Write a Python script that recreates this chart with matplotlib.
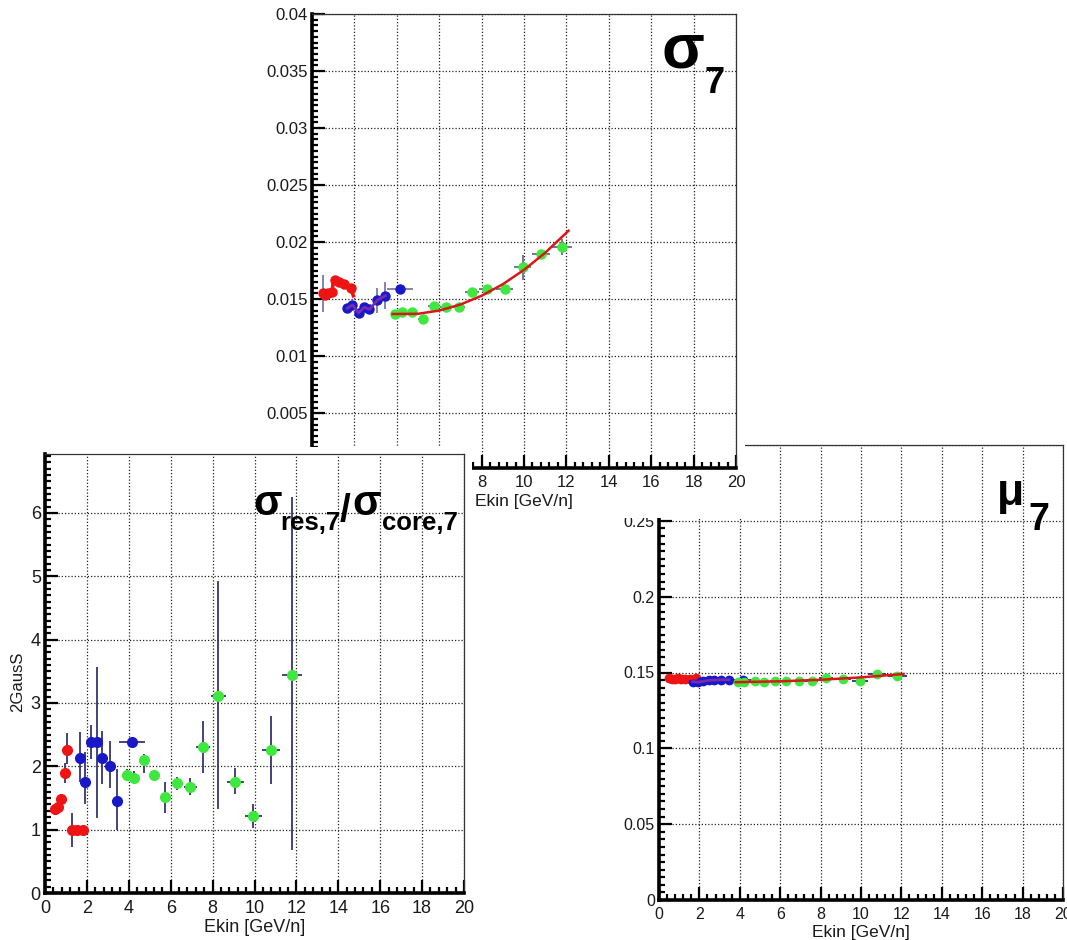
import matplotlib
matplotlib.use("Agg")
import matplotlib.pyplot as plt
from matplotlib.patches import Rectangle
from matplotlib.ticker import MultipleLocator, FuncFormatter

plt.rcParams['font.family'] = ['Liberation Sans', 'DejaVu Sans']

# bin centres in kinetic energy per nucleon [GeV/n], one set per detector range
ek_red = [0.5, 0.62, 0.77, 0.96, 1.07, 1.28, 1.52, 1.83]
ek_blue = [1.67, 1.91, 2.2, 2.47, 2.71, 3.08, 3.46, 4.15]
ek_green = [3.91, 4.23, 4.74, 5.22, 5.74, 6.3, 6.94, 7.55, 8.26, 9.09, 9.94, 10.8, 11.8]
xerr_red = [0.05, 0.06, 0.07, 0.08, 0.09, 0.1, 0.12, 0.14]
xerr_blue = [0.1, 0.12, 0.13, 0.14, 0.15, 0.17, 0.2, 0.6]
xerr_green = [0.16, 0.18, 0.2, 0.23, 0.26, 0.28, 0.3, 0.34, 0.36, 0.4, 0.41, 0.44, 0.48]

# sigma_7 (core width)
sig_red = [0.0155, 0.0154, 0.0155, 0.0156, 0.0167, 0.0165, 0.0163, 0.0160]
sig_red_err = [0.0016, 0.0002, 0.0002, 0.0002, 0.0002, 0.0002, 0.0002, 0.0002]
sig_blue = [0.0142, 0.0145, 0.0138, 0.0143, 0.0141, 0.0149, 0.0153, 0.0159]
sig_blue_err = [0.0003, 0.0003, 0.0003, 0.0003, 0.0003, 0.0011, 0.0012, 0.0002]
sig_green = [0.0137, 0.0139, 0.0139, 0.0133, 0.0144, 0.0143, 0.0143,
             0.0156, 0.0159, 0.0159, 0.0178, 0.0190, 0.0196]
sig_green_err = [0.0002, 0.0002, 0.0002, 0.0002, 0.0002, 0.0002, 0.0002,
                 0.0002, 0.0002, 0.0002, 0.0011, 0.0003, 0.0007]
sig_red_fit_x = [0.5, 0.96, 1.0, 1.07, 1.28, 1.52, 1.83, 1.95]
sig_red_fit_y = [0.0155, 0.0156, 0.0168, 0.0167, 0.0165, 0.0163, 0.0160, 0.0153]
sig_fit_x = [3.8, 5, 6, 7, 8, 9, 10, 11, 12.1]
sig_fit_y = [0.0137, 0.01372, 0.0140, 0.01453, 0.0153, 0.01631, 0.01757, 0.01907, 0.0210]

# sigma_res,7 / sigma_core,7 with lower / upper error bounds
rat_red = [1.33, 1.36, 1.49, 1.90, 2.26, 1.0, 1.0, 1.0]
rat_red_lo = [1.27, 1.30, 1.42, 1.73, 2.03, 0.72, 0.95, 0.95]
rat_red_hi = [1.39, 1.42, 1.56, 2.05, 2.52, 1.27, 1.05, 1.05]
rat_blue = [2.13, 1.76, 2.38, 2.38, 2.13, 2.0, 1.46, 2.38]
rat_blue_lo = [1.75, 1.40, 2.12, 1.19, 1.72, 1.65, 1.0, 2.33]
rat_blue_hi = [2.54, 2.22, 2.65, 3.57, 2.55, 2.40, 1.95, 2.43]
rat_green = [1.86, 1.81, 2.10, 1.86, 1.51, 1.73, 1.68, 2.30, 3.11, 1.75, 1.21, 2.25, 3.44]
rat_green_lo = [1.78, 1.74, 1.90, 1.80, 1.27, 1.62, 1.55, 1.90, 1.33, 1.57, 1.02, 1.72, 0.68]
rat_green_hi = [1.95, 1.92, 2.20, 1.92, 1.75, 1.83, 1.82, 2.72, 4.92, 1.98, 1.40, 2.80, 6.25]

# mu_7 (mean)
mu_red = [0.1465, 0.1460, 0.1460, 0.1465, 0.1460, 0.1458, 0.1460, 0.1462]
mu_blue = [0.1440, 0.1436, 0.1442, 0.1448, 0.1450, 0.1452, 0.1452, 0.1450]
mu_green = [0.1436, 0.1436, 0.1447, 0.1436, 0.1447, 0.1442, 0.1447,
            0.1442, 0.1465, 0.1458, 0.1442, 0.1491, 0.1475]
mu_fit_x = [3.8, 6, 8, 10, 12.1]
mu_fit_y = [0.1436, 0.1442, 0.1452, 0.1468, 0.1490]

RED = '#ee1414'
BLUE = '#1818c8'
GREEN = '#3ee83e'

W, H = 1067, 940


def rect(left, top, right, bottom):
    return [left / W, 1 - bottom / H, (right - left) / W, (bottom - top) / H]


def pos(x, y):
    return x / W, 1 - y / H


def root_style(ax, ymajor, yminor, ylim, size, xpad, xlabel_from=None):
    ax.set_xlim(0, 20)
    ax.set_ylim(*ylim)
    ax.xaxis.set_major_locator(MultipleLocator(2))
    ax.xaxis.set_minor_locator(MultipleLocator(0.4))
    ax.yaxis.set_major_locator(MultipleLocator(ymajor))
    ax.yaxis.set_minor_locator(MultipleLocator(yminor))
    fmt = FuncFormatter(lambda v, p: f'{v:g}')
    if xlabel_from is None:
        ax.xaxis.set_major_formatter(fmt)
    else:
        # lower x labels sit under the neighbouring pad
        ax.xaxis.set_major_formatter(FuncFormatter(
            lambda v, p: f'{v:g}' if v >= xlabel_from else ''))
    ax.yaxis.set_major_formatter(fmt)
    ax.tick_params(which='both', direction='in', top=False, right=False,
                   width=1.6, color='black', labelcolor='#1a1a1a', labelsize=size)
    ax.tick_params(which='major', length=9.5)
    ax.tick_params(which='minor', length=4)
    ax.tick_params(axis='x', pad=xpad)
    ax.tick_params(axis='y', pad=3)
    for side in ('left', 'bottom'):
        ax.spines[side].set_linewidth(2.6)
        ax.spines[side].set_color('black')
    for side in ('top', 'right'):
        ax.spines[side].set_linewidth(0.9)
        ax.spines[side].set_color('#333333')
    ax.grid(True, which='major', color='#222222', linestyle=(0, (1, 1.6)), linewidth=0.9)
    ax.set_axisbelow(True)


def draw_series(ax, x, y, xerr, yerr, color, ecolor, ms):
    ax.errorbar(x, y, xerr=xerr, yerr=yerr, fmt='none', ecolor=ecolor,
                elinewidth=1.3, capsize=0, zorder=2)
    ax.plot(x, y, 'o', color=color, mec=color, ms=ms, zorder=3)


fig = plt.figure(figsize=(W / 100, H / 100), dpi=100)

# mu_7 panel (lowest layer)
ax_mu = fig.add_axes(rect(659, 445, 1063, 900), zorder=1)
root_style(ax_mu, 0.05, 0.005, (0, 0.3), 11.5, 5)
draw_series(ax_mu, ek_red, mu_red, xerr_red, None, RED, '#553355', 6)
draw_series(ax_mu, ek_blue, mu_blue, xerr_blue, None, BLUE, '#333366', 6)
draw_series(ax_mu, ek_green, mu_green, xerr_green, None, GREEN, '#333366', 6)
ax_mu.plot(ek_red, mu_red, color=RED, lw=2, zorder=4)
ax_mu.plot(ek_blue[:-1], mu_blue[:-1], color='#7a2ab0', lw=2, zorder=4)
ax_mu.plot(mu_fit_x, mu_fit_y, color='#d81818', lw=1.8, zorder=4)
ax_mu.set_xlabel('Ekin [GeV/n]', fontsize=12.5, color='#1a1a1a')
ax_mu.xaxis.set_label_coords(0.5, -32 / 455)
ax_mu.xaxis.label.set_va('center')
fig.text(*pos(997, 505), 'μ', fontsize=32, fontweight='bold', ha='left', va='baseline', zorder=1.5)
fig.text(*pos(1028, 530), '7', fontsize=27, fontweight='bold', ha='left', va='baseline', zorder=1.5)

# white pad behind the sigma_7 panel
fig.add_artist(Rectangle((240 / W, 1 - 518 / H), 505 / W, 518 / H, transform=fig.transFigure,
                         facecolor='white', edgecolor='none', zorder=2))

# sigma_7 panel
ax_sig = fig.add_axes(rect(312, 14, 736, 468), zorder=3)
root_style(ax_sig, 0.005, 0.0005, (0.0002, 0.04), 12, 5, xlabel_from=8)
draw_series(ax_sig, ek_red, sig_red, xerr_red, sig_red_err, RED, '#7a7aa8', 6.5)
draw_series(ax_sig, ek_blue, sig_blue, xerr_blue, sig_blue_err, BLUE, '#7a7aa8', 6.5)
draw_series(ax_sig, ek_green, sig_green, xerr_green, sig_green_err, GREEN, '#6a6a90', 6.5)
ax_sig.plot(sig_red_fit_x, sig_red_fit_y, color=RED, lw=2.6, zorder=4)
ax_sig.plot(ek_blue[:-1], sig_blue[:-1], color='#7a2ab0', lw=2, zorder=4)
ax_sig.plot(sig_fit_x, sig_fit_y, color='#d81818', lw=1.8, zorder=4)
ax_sig.set_xlabel('Ekin [GeV/n]', fontsize=12.5, color='#1a1a1a')
ax_sig.xaxis.set_label_coords(0.5, -34 / 454)
ax_sig.xaxis.label.set_va('center')
fig.text(*pos(662, 67), 'σ', fontsize=45, fontweight='bold', ha='left', va='baseline', zorder=3.5)
fig.text(*pos(704, 93), '7', fontsize=26, fontweight='bold', ha='left', va='baseline', zorder=3.5)

# white pad behind the ratio panel
fig.add_artist(Rectangle((0, 0), 472 / W, 1 - 447 / H, transform=fig.transFigure,
                         facecolor='white', edgecolor='none', zorder=4))

# sigma_res / sigma_core panel
ax_rat = fig.add_axes(rect(45, 454, 464, 893), zorder=5)
root_style(ax_rat, 1, 0.1, (0, 6.93), 13, 5)


def yerr_from(vals, lo, hi):
    return [[v - l for v, l in zip(vals, lo)], [h - v for v, h in zip(vals, hi)]]


draw_series(ax_rat, ek_red, rat_red, xerr_red, yerr_from(rat_red, rat_red_lo, rat_red_hi),
            RED, '#35356e', 7)
draw_series(ax_rat, ek_blue, rat_blue, xerr_blue, yerr_from(rat_blue, rat_blue_lo, rat_blue_hi),
            BLUE, '#35356e', 7)
draw_series(ax_rat, ek_green, rat_green, xerr_green, yerr_from(rat_green, rat_green_lo, rat_green_hi),
            GREEN, '#35356e', 7)
ax_rat.set_xlabel('Ekin [GeV/n]', fontsize=13, color='#1a1a1a')
ax_rat.xaxis.set_label_coords(0.5, -35 / 439)
ax_rat.xaxis.label.set_va('center')
ax_rat.set_ylabel('2GausS', fontsize=12, color='#1a1a1a')
ax_rat.yaxis.set_label_coords(-27 / 419, (893 - 682) / 439)
ax_rat.yaxis.label.set_va('center')

for x, y, s, size in [(253, 515, 'σ', 30), (280, 530, 'res,7', 18.5), (340, 521, '/', 28),
                      (352, 515, 'σ', 30), (382, 530, 'core,7', 18.5)]:
    fig.text(*pos(x, y), s, fontsize=size, fontweight='bold', ha='left', va='baseline', zorder=6)

fig.savefig('out.png', dpi=100, facecolor='white')
